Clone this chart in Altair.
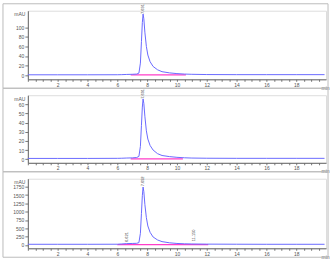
import altair as alt
import pandas as pd

# ---- data ----
t_trace = [0, 2, 4, 6, 6.3, 6.6, 7.0, 7.3, 7.45, 7.55, 7.62, 7.68, 7.73, 7.78, 7.85,
           7.95, 8.05, 8.2, 8.4, 8.7, 9.0, 9.5, 10.0, 10.5, 11, 12, 14, 16, 18, 19.9]
a1 = [0.5, 0.5, 0.5, 0.6, 0.8, 1.2, 1.5, 2, 4, 25, 70, 110, 128, 118, 90,
      60, 42, 28, 18, 11, 7, 4.5, 3, 2, 1.5, 1, 0.8, 0.8, 0.8, 0.8]
a2 = [0.8, 0.8, 0.8, 0.9, 1, 1.2, 1.4, 1.8, 3, 14, 37, 57, 66, 61, 47,
      31, 22, 15, 10, 6, 4, 2.8, 2, 1.5, 1.2, 1, 0.9, 0.9, 0.9, 0.9]
a3 = [20, 20, 20, 22, 30, 40, 45, 50, 70, 350, 950, 1480, 1740, 1600, 1220,
      820, 570, 380, 240, 150, 100, 65, 45, 35, 30, 25, 22, 20, 20, 20]

base_t = [[6.9, 10.6], [6.9, 10.4], [6.0, 12.1]]
base_v = [[0.2, 0.2], [0.3, 0.3], [12, 12]]

peak_t = [[7.73], [7.73], [6.62, 7.73, 11.15]]
peak_v = [[128], [66], [90, 1760, 110]]
peak_lbl = [["7.691"], ["7.691"], ["6.621", "7.692", "11.150"]]

y_domains = [[-9, 135], [-4, 70], [-100, 1990]]
y_ticks = [[0, 20, 40, 60, 80, 100], [0, 10, 20, 30, 40, 50, 60],
           [0, 250, 500, 750, 1000, 1250, 1500, 1750]]
heights = [69, 68, 70]
traces = [a1, a2, a3]

x_ticks = [i * 0.5 for i in range(0, 40)]

W = 300
BLUE = "#6a6aff"
PINK = "#ff3cc8"
FONT = "Liberation Sans"
TXT = "#555555"


def panel(i):
    h = heights[i]
    df = pd.DataFrame({"t": t_trace, "a": traces[i]})
    xs = alt.X("t:Q", scale=alt.Scale(domain=[0, 20], nice=False, zero=False),
               axis=alt.Axis(values=x_ticks, tickCount=200, title="min", titleX=299, titleY=8,
                             titleAlign="center", titleBaseline="middle",
                             titleFontSize=5, titleFontWeight="normal",
                             titleColor=TXT,
                             labelExpr="(datum.value % 2 == 0 && datum.value > 0) ? datum.value : ''",
                             labelFontSize=5, labelColor=TXT, tickSize=2,
                             tickColor="#777777", domainColor="#666666",
                             labelOverlap=False, labelFlush=False,
                             labelPadding=1, grid=False, labelFont=FONT, titleFont=FONT))
    ys = alt.Y("a:Q", scale=alt.Scale(domain=y_domains[i], nice=False, zero=False),
               axis=alt.Axis(values=y_ticks[i], tickCount=200, title="mAU", titleAngle=0,
                             titleX=-3, titleY=3, titleAlign="right",
                             titleBaseline="middle", titleFontSize=5,
                             titleFontWeight="normal", titleColor=TXT,
                             labelFontSize=5, labelColor=TXT, tickSize=3,
                             tickColor="#777777", domainColor="#666666",
                             labelOverlap=False, labelFlush=False, format="d",
                             labelPadding=1, grid=False, labelFont=FONT, titleFont=FONT))
    line = alt.Chart(df).mark_line(color=BLUE, strokeWidth=1).encode(x=xs, y=ys)
    bdf = pd.DataFrame({"t": base_t[i], "a": base_v[i]})
    base = alt.Chart(bdf).mark_line(color=PINK, strokeWidth=1.2).encode(x="t:Q", y="a:Q")
    pdf = pd.DataFrame({"t": peak_t[i], "a": peak_v[i], "lbl": peak_lbl[i]})
    lbl = alt.Chart(pdf).mark_text(angle=270, align="left", baseline="middle",
                                   fontSize=4, color="#444444", font=FONT).encode(
        x="t:Q", y="a:Q", text="lbl:N")
    frame = alt.Chart(alt.Data(values=[{}])).mark_rect(
        fill=None, stroke="#bbbbbb", strokeWidth=1).encode(
        x=alt.value(-25), x2=alt.value(W + 2), y=alt.value(-7), y2=alt.value(h + 9))
    return alt.layer(frame, base, line, lbl).properties(width=W, height=h)


chart = alt.vconcat(*[panel(i) for i in range(3)], spacing=16, bounds="flush").properties(
    padding={"left": 2, "top": 2, "right": 1, "bottom": 1}
).configure_view(stroke=None).configure(background="white")

chart.save("out.html", embed_options={"renderer": "svg", "actions": False})
